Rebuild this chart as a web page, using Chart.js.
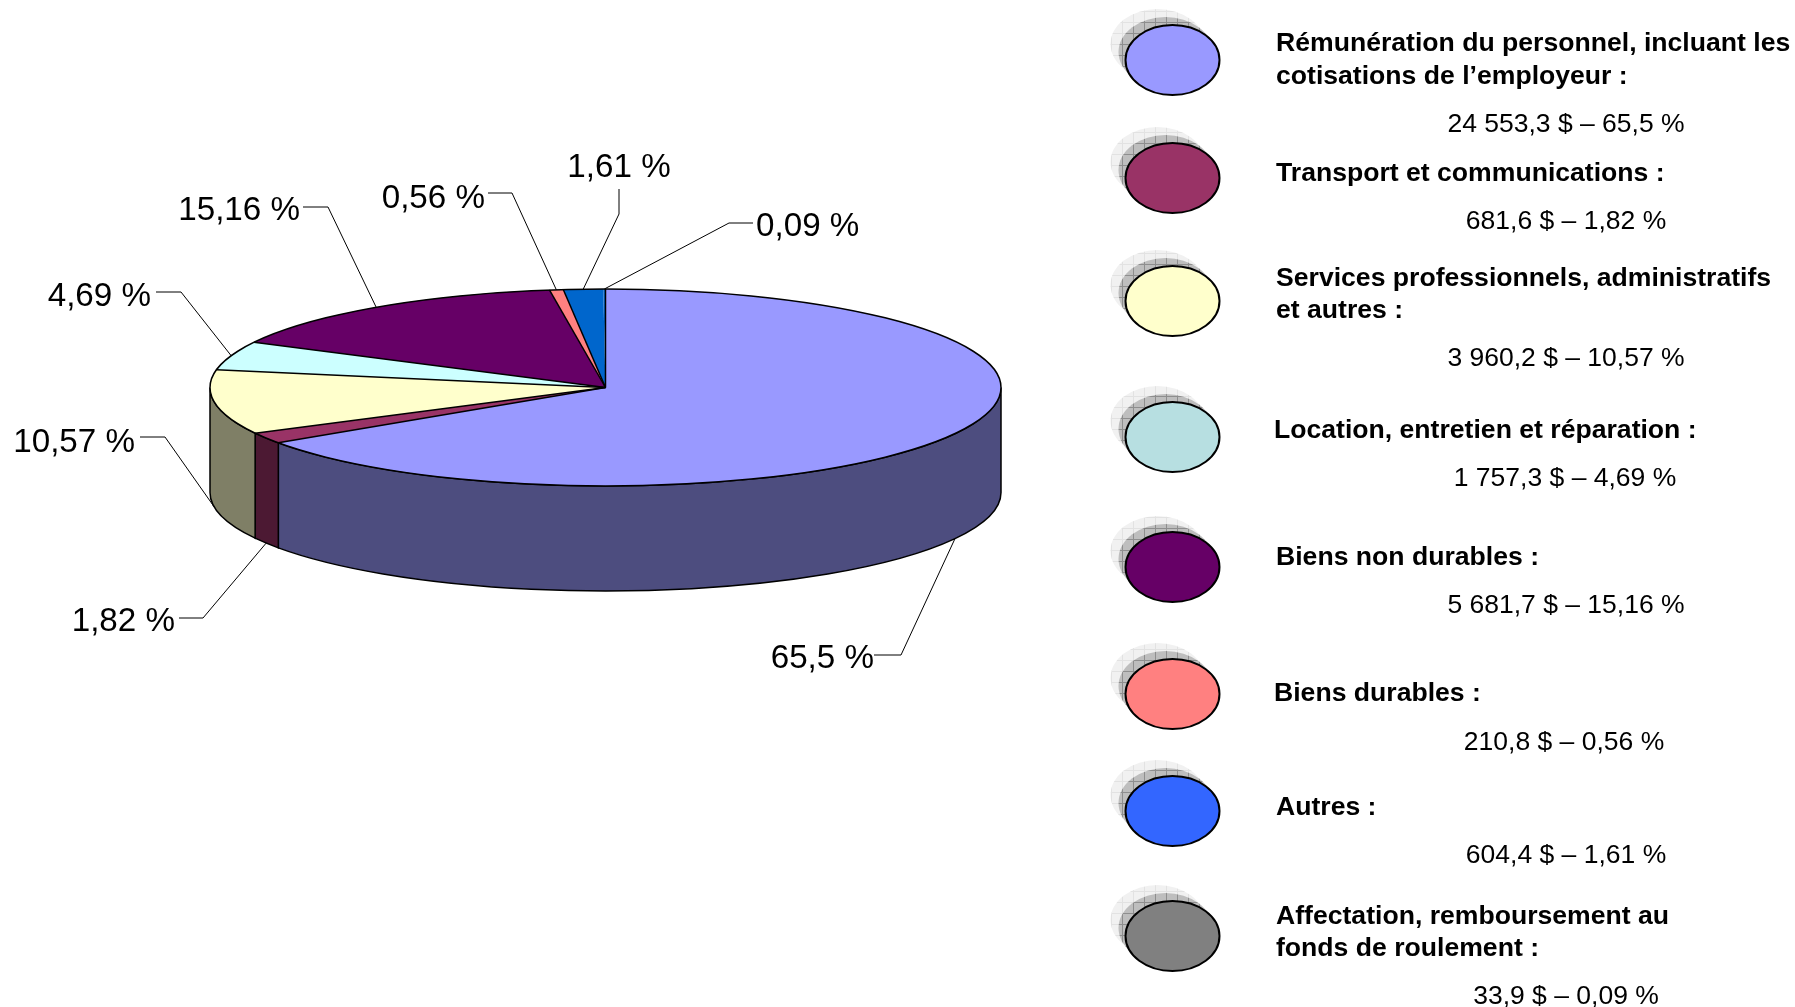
<!DOCTYPE html>
<html>
<head>
<meta charset="utf-8">
<style>
  html, body { margin: 0; background: #fff; }
  #wrap { position: relative; width: 1795px; height: 1007px; }
</style>
<script src="https://cdn.jsdelivr.net/npm/chart.js@4"></script>
</head>
<body>
<div id="wrap"><canvas id="chart"></canvas></div>
<script>
const categories = [
  ['Rémunération du personnel, incluant les', 'cotisations de l’employeur :'],
  ['Transport et communications :'],
  ['Services professionnels, administratifs', 'et autres :'],
  ['Location, entretien et réparation :'],
  ['Biens non durables :'],
  ['Biens durables :'],
  ['Autres :'],
  ['Affectation, remboursement au', 'fonds de roulement :']
];
const amounts = [24553.3, 681.6, 3960.2, 1757.3, 5681.7, 210.8, 604.4, 33.9];
const amountLabels = ['24 553,3 $ – 65,5 %', '681,6 $ – 1,82 %', '3 960,2 $ – 10,57 %', '1 757,3 $ – 4,69 %',
  '5 681,7 $ – 15,16 %', '210,8 $ – 0,56 %', '604,4 $ – 1,61 %', '33,9 $ – 0,09 %'];
const percentLabels = ['65,5 %', '1,82 %', '10,57 %', '4,69 %', '15,16 %', '0,56 %', '1,61 %', '0,09 %'];

// colours
const topColors = ['#9999FF', '#993366', '#FFFFCC', '#CCFFFF', '#660066', '#FF8080', '#0066CC', '#0066CC'];
const sideColors = ['#4D4D7F', '#4C1933', '#7F7F66', '#667F7F', '#330033', '#7F4040', '#003366', '#003366'];
const legendColors = ['#9999FF', '#993366', '#FFFFCC', '#B7DFE1', '#660066', '#FF8080', '#3366FF', '#808080'];

// layout of the pie
const pieX = 605.5, pieY = 387.5, pieRx = 395.5, pieRy = 98.5, pieDepth = 105;

// leader line elbow + end, and label anchor, for each slice
const leaders = [
  { elbow: [901, 655], end: [874, 655], text: [874, 659, 'right'] },
  { elbow: [203, 618], end: [179, 618], text: [175, 622, 'right'] },
  { elbow: [165, 437], end: [140, 437], text: [135, 443, 'right'] },
  { elbow: [181, 292], end: [156, 292], text: [151, 297, 'right'] },
  { elbow: [328, 207], end: [303, 207], text: [300, 211, 'right'] },
  { elbow: [512, 193], end: [488, 193], text: [485, 199, 'right'] },
  { elbow: [619, 214], end: [619, 189], text: [619, 168, 'center'] },
  { elbow: [729, 223], end: [753, 223], text: [756, 227, 'left'] }
];

// legend rows, y of the marker and of each text line
const legendRows = [
  { markerY: 60,  textX: 1276, lineY: [44, 77],   valueX: 1566, valueY: 125 },
  { markerY: 178, textX: 1276, lineY: [174],      valueX: 1566, valueY: 222 },
  { markerY: 301, textX: 1276, lineY: [279, 311], valueX: 1566, valueY: 359 },
  { markerY: 437, textX: 1274, lineY: [431],      valueX: 1565, valueY: 479 },
  { markerY: 567, textX: 1276, lineY: [558],      valueX: 1566, valueY: 606 },
  { markerY: 694, textX: 1274, lineY: [694],      valueX: 1564, valueY: 743 },
  { markerY: 811, textX: 1276, lineY: [808],      valueX: 1566, valueY: 856 },
  { markerY: 936, textX: 1276, lineY: [917, 949], valueX: 1566, valueY: 997 }
];
const markerX = 1172.5, markerRx = 47, markerRy = 35;

function hatch(base, line) {
  const c = document.createElement('canvas');
  c.width = 11; c.height = 11;
  const g = c.getContext('2d');
  g.fillStyle = base;
  g.fillRect(0, 0, 11, 11);
  g.fillStyle = line;
  g.fillRect(0, 0, 11, 1);
  g.fillRect(0, 0, 1, 11);
  return c;
}

// walls under the pie and the squashing of the top face
const pie3d = {
  id: 'pie3d',
  beforeDatasetsDraw(chart) {
    const { ctx } = chart;
    const arcs = chart.getDatasetMeta(0).data;
    ctx.save();
    ctx.lineWidth = 1.5;
    ctx.strokeStyle = '#000';
    arcs.forEach((arc, i) => {
      const a0 = Math.max(arc.startAngle, 0);
      const a1 = Math.min(arc.endAngle, Math.PI);
      if (a1 <= a0) return;
      ctx.beginPath();
      ctx.ellipse(arc.x, arc.y, pieRx, pieRy, 0, a0, a1);
      ctx.ellipse(arc.x, arc.y + pieDepth, pieRx, pieRy, 0, a1, a0, true);
      ctx.closePath();
      ctx.fillStyle = sideColors[i];
      ctx.fill();
      ctx.stroke();
    });
    ctx.restore();
    // the library draws the arcs inside this squashed space
    ctx.save();
    ctx.translate(pieX, pieY);
    ctx.scale(1, pieRy / pieRx);
    ctx.translate(-pieX, -pieY);
  },
  afterDatasetsDraw(chart) {
    const { ctx } = chart;
    ctx.restore();
    const arcs = chart.getDatasetMeta(0).data;
    ctx.save();
    ctx.lineWidth = 1.5;
    ctx.strokeStyle = '#000';
    ctx.beginPath();
    ctx.ellipse(pieX, pieY, pieRx, pieRy, 0, 0, Math.PI * 2);
    ctx.stroke();
    arcs.forEach(arc => {
      // the thin last slice has no line of its own in the original
      if (arc.circumference < 0.01) return;
      ctx.beginPath();
      ctx.moveTo(arc.x, arc.y);
      ctx.lineTo(arc.x + Math.cos(arc.startAngle) * pieRx, arc.y + Math.sin(arc.startAngle) * pieRy);
      ctx.stroke();
    });
    ctx.restore();
    drawLeaders(chart);
    drawLegend(chart);
  }
};

function drawLeaders(chart) {
  const { ctx } = chart;
  const arcs = chart.getDatasetMeta(0).data;
  ctx.save();
  ctx.lineWidth = 1;
  ctx.strokeStyle = '#000';
  ctx.fillStyle = '#000';
  ctx.font = '33.2px "Liberation Sans"';
  ctx.textBaseline = 'middle';
  arcs.forEach((arc, i) => {
    const mid = (arc.startAngle + arc.endAngle) / 2;
    const sx = arc.x + Math.cos(mid) * pieRx;
    let sy = arc.y + Math.sin(mid) * pieRy;
    if (Math.sin(mid) > 0) sy += pieDepth;
    const l = leaders[i];
    ctx.beginPath();
    ctx.moveTo(sx, sy);
    ctx.lineTo(l.elbow[0], l.elbow[1]);
    ctx.lineTo(l.end[0], l.end[1]);
    ctx.stroke();
    ctx.textAlign = l.text[2];
    ctx.fillText(percentLabels[i], l.text[0], l.text[1]);
  });
  ctx.restore();
}

function drawLegend(chart) {
  const { ctx } = chart;
  const mid = ctx.createPattern(hatch('#BEBEBE', '#8E8E8E'), 'repeat');
  const light = ctx.createPattern(hatch('#F1F1F1', '#E2E2E2'), 'repeat');
  ctx.save();
  ctx.textBaseline = 'middle';
  legendRows.forEach((row, i) => {
    ctx.fillStyle = light;
    ctx.beginPath();
    ctx.ellipse(markerX - 15, row.markerY - 16, markerRx, markerRy, 0, 0, Math.PI * 2);
    ctx.fill();
    ctx.fillStyle = mid;
    ctx.beginPath();
    ctx.ellipse(markerX - 7, row.markerY - 8, markerRx, markerRy, 0, 0, Math.PI * 2);
    ctx.fill();
    ctx.fillStyle = legendColors[i];
    ctx.strokeStyle = '#000';
    ctx.lineWidth = 2;
    ctx.beginPath();
    ctx.ellipse(markerX, row.markerY, markerRx, markerRy, 0, 0, Math.PI * 2);
    ctx.fill();
    ctx.stroke();

    ctx.fillStyle = '#000';
    ctx.textAlign = 'left';
    ctx.font = 'bold 26.6px "Liberation Sans"';
    categories[i].forEach((line, j) => ctx.fillText(line, row.textX, row.lineY[j]));
    ctx.textAlign = 'center';
    ctx.font = '26.5px "Liberation Sans"';
    ctx.fillText(amountLabels[i], row.valueX, row.valueY);
  });
  ctx.restore();
}

new Chart(document.getElementById('chart'), {
  type: 'pie',
  data: {
    labels: categories.map(c => c.join(' ')),
    datasets: [{
      data: amounts,
      backgroundColor: topColors,
      borderWidth: 0
    }]
  },
  options: {
    responsive: true,
    maintainAspectRatio: false,
    animation: false,
    radius: pieRx,
    layout: { padding: { left: 0, top: 0, right: 1795 - 2 * pieX, bottom: 1007 - 2 * pieY } },
    plugins: { legend: { display: false }, tooltip: { enabled: false } }
  },
  plugins: [pie3d]
});
</script>
</body>
</html>
